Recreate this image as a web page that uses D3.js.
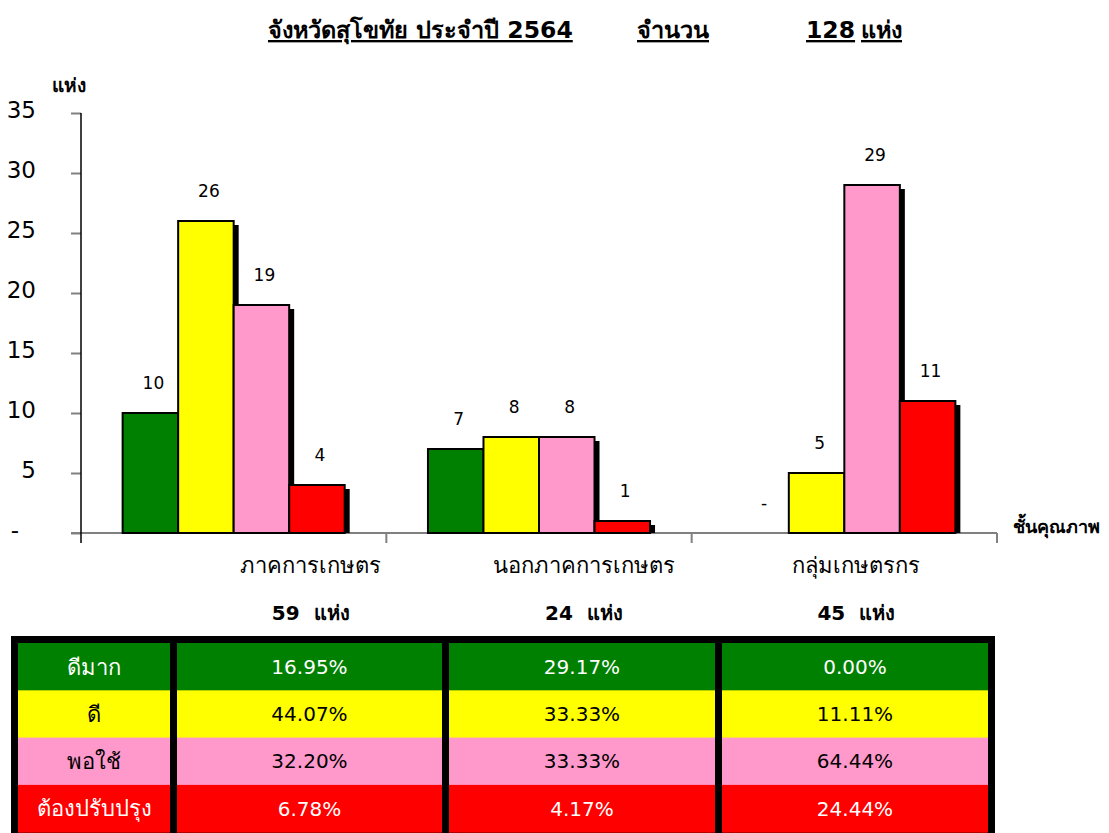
<!DOCTYPE html>
<html>
<head>
<meta charset="utf-8">
<script src="https://cdn.jsdelivr.net/npm/d3@7"></script>
<style>
  html, body { margin: 0; padding: 0; background: #fff; }
  svg { display: block; font-family: Tahoma, "DejaVu Sans", "Noto Sans", sans-serif; }
</style>
</head>
<body>
<svg id="chart" width="1109" height="833"></svg>
<script>
// Data
const categories = ["ภาคการเกษตร", "นอกภาคการเกษตร", "กลุ่มเกษตรกร"];
const categoryTotals = [59, 24, 45];
const seriesNames = ["ดีมาก", "ดี", "พอใช้", "ต้องปรับปรุง"];
const seriesColors = ["#008000", "#ffff00", "#ff99cc", "#ff0000"];
const seriesTextColors = ["#fff", "#000", "#000", "#fff"];
// counts per series, one value per category
const countsDeeMak = [10, 7, 0];
const countsDee = [26, 8, 5];
const countsPorChai = [19, 8, 29];
const countsTongPrub = [4, 1, 11];
// table percentages per series
const pctDeeMak = ["16.95%", "29.17%", "0.00%"];
const pctDee = ["44.07%", "33.33%", "11.11%"];
const pctPorChai = ["32.20%", "33.33%", "64.44%"];
const pctTongPrub = ["6.78%", "4.17%", "24.44%"];
const yTicks = [0, 5, 10, 15, 20, 25, 30, 35];

const seriesCounts = [countsDeeMak, countsDee, countsPorChai, countsTongPrub];
const seriesPct = [pctDeeMak, pctDee, pctPorChai, pctTongPrub];

// Layout
const plot = { left: 81, right: 997, top: 113, bottom: 533 };
const labelNudge = [77, 45, 12]; // category text boxes sit right of group centres

const svg = d3.select("#chart");

// Title (underlined pieces)
[["จังหวัดสุโขทัย ประจำปี 2564", 268], ["จำนวน", 637], ["128", 806], ["แห่ง", 861]].forEach(([t, x]) => {
  svg.append("text")
    .attr("x", x)
    .attr("y", 38)
    .attr("font-size", 23.5)
    .attr("font-weight", "bold")
    .style("text-decoration", "underline")
    .text(t);
});

// Scales
const y = d3.scaleLinear().domain([0, 35]).range([plot.bottom, plot.top]);
const x0 = d3.scaleBand().domain(categories).range([plot.left, plot.right]).padding(0);
const x1 = d3.scaleBand().domain(seriesNames).range([0, x0.bandwidth()])
  .paddingInner(0).paddingOuter(0.75);

// Y axis
const yAxis = d3.axisLeft(y)
  .tickValues(yTicks)
  .tickSize(10)
  .tickPadding(35)
  .tickFormat(d => d === 0 ? "-" : d);

const yG = svg.append("g")
  .attr("transform", `translate(${plot.left},0)`)
  .call(yAxis);
yG.select(".domain").remove();
yG.selectAll(".tick line").attr("stroke", "#808080").attr("stroke-width", 2);
yG.selectAll(".tick text")
  .attr("font-size", 23)
  .attr("font-family", "'DejaVu Sans', sans-serif")
  .attr("fill", "#000")
  .attr("dy", "0.2em")
  .attr("dx", d => d === 0 ? -17 : 0);

// X axis line + category ticks
svg.append("line")
  .attr("x1", plot.left - 10).attr("x2", plot.right)
  .attr("y1", plot.bottom).attr("y2", plot.bottom)
  .attr("stroke", "#808080").attr("stroke-width", 2);

const catEdges = categories.map(c => x0(c)).concat([plot.right]);
svg.selectAll(".cat-tick")
  .data(catEdges.slice(1))
  .join("line")
  .attr("class", "cat-tick")
  .attr("x1", d => d).attr("x2", d => d)
  .attr("y1", plot.bottom).attr("y2", plot.bottom + 10)
  .attr("stroke", "#808080").attr("stroke-width", 2);

svg.append("line")
  .attr("x1", plot.left).attr("x2", plot.left)
  .attr("y1", plot.top).attr("y2", plot.bottom + 10)
  .attr("stroke", "#000").attr("stroke-width", 1.5);

// Axis titles
svg.append("text")
  .attr("x", 52).attr("y", 92)
  .attr("font-size", 19).attr("font-weight", "bold")
  .text("แห่ง");

svg.append("text")
  .attr("x", 1013).attr("y", 533)
  .attr("font-size", 18).attr("font-weight", "bold")
  .text("ชั้นคุณภาพ");

// Bars
const barData = [];
categories.forEach((c, ci) => {
  seriesNames.forEach((s, si) => {
    barData.push({ cat: c, ci, series: s, si, value: seriesCounts[si][ci] });
  });
});

const barsG = svg.append("g");
barsG.selectAll(".shadow")
  .data(barData.filter(d => d.value > 0))
  .join("rect")
  .attr("class", "shadow")
  .attr("x", d => x0(d.cat) + x1(d.series) + 5)
  .attr("y", d => y(d.value) + 4)
  .attr("width", x1.bandwidth())
  .attr("height", d => y(0) - y(d.value) - 4)
  .attr("fill", "#000");

barsG.selectAll(".bar")
  .data(barData.filter(d => d.value > 0))
  .join("rect")
  .attr("class", "bar")
  .attr("x", d => x0(d.cat) + x1(d.series))
  .attr("y", d => y(d.value))
  .attr("width", x1.bandwidth())
  .attr("height", d => y(0) - y(d.value))
  .attr("fill", d => seriesColors[d.si])
  .attr("stroke", "#000")
  .attr("stroke-width", 2);

// Value labels
svg.selectAll(".val")
  .data(barData)
  .join("text")
  .attr("class", "val")
  .attr("x", d => x0(d.cat) + x1(d.series) + x1.bandwidth() / 2 + 3)
  .attr("y", d => y(d.value) - 24)
  .attr("text-anchor", "middle")
  .attr("font-size", 17)
  .attr("font-family", "'DejaVu Sans', sans-serif")
  .text(d => d.value === 0 ? "-" : d.value);

// Category labels and totals
svg.selectAll(".cat-label")
  .data(categories)
  .join("text")
  .attr("class", "cat-label")
  .attr("x", (d, i) => x0(d) + x0.bandwidth() / 2 + labelNudge[i])
  .attr("y", 573)
  .attr("text-anchor", "middle")
  .attr("font-size", 22)
  .text(d => d);

svg.selectAll(".cat-total")
  .data(categoryTotals)
  .join("text")
  .attr("class", "cat-total")
  .attr("x", (d, i) => x0(categories[i]) + x0.bandwidth() / 2 + labelNudge[i])
  .attr("y", 620)
  .attr("text-anchor", "middle")
  .attr("font-size", 20)
  .attr("font-weight", "bold")
  .text(d => `${d}\u00a0\u00a0แห่ง`);

// Table
const table = { left: 11, right: 995, top: 636, rowTop: 643, rowH: 47.3 };
const colX = [18, 177, 449, 722];
const colW = [152, 265, 266, 266];

svg.append("rect")
  .attr("x", table.left).attr("y", table.top)
  .attr("width", table.right - table.left)
  .attr("height", 833 - table.top)
  .attr("fill", "#000");

const rowY = d3.scaleBand().domain(seriesNames)
  .range([table.rowTop, table.rowTop + table.rowH * 4]);

seriesNames.forEach((s, si) => {
  const cells = [s].concat(seriesPct[si]);
  cells.forEach((t, ci) => {
    svg.append("rect")
      .attr("x", colX[ci]).attr("y", rowY(s))
      .attr("width", colW[ci]).attr("height", rowY.bandwidth() + 0.5)
      .attr("fill", seriesColors[si]);
    svg.append("text")
      .attr("x", colX[ci] + colW[ci] / 2)
      .attr("y", rowY(s) + rowY.bandwidth() / 2)
      .attr("dy", "0.36em")
      .attr("text-anchor", "middle")
      .attr("font-size", ci === 0 ? 22 : 20)
      .attr("font-family", "'DejaVu Sans', sans-serif")
      .attr("fill", seriesTextColors[si])
      .text(t);
  });
});
</script>
</body>
</html>
